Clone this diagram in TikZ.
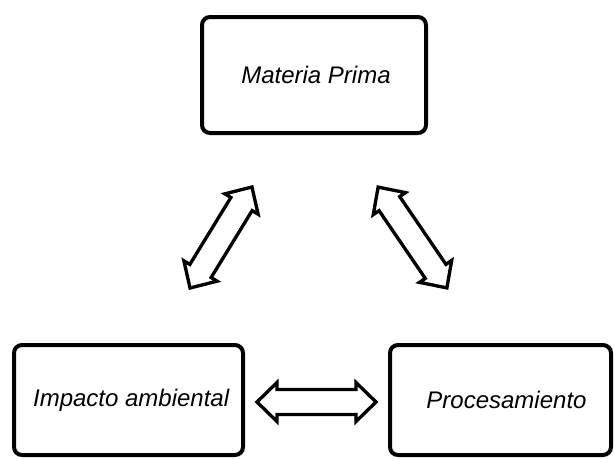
\documentclass[tikz,border=0pt]{standalone}
\usepackage{fontspec}
\setmainfont{Liberation Sans}
\begin{document}
\begin{tikzpicture}[x=0.75pt,y=-0.75pt,
  stagebox/.style={draw=black, line width=3pt, rounded corners=6pt, fill=white,
    font=\fontsize{18}{22}\selectfont\itshape, align=center, inner sep=0pt},
  pics/dblarrow/.style={code={
    % hollow double-headed block arrow, length #1, centred on the origin
    \draw[line width=2.5pt, line join=miter, fill=white]
      (-#1/2,0) -- (-#1/2+20,-19.5) -- (-#1/2+20,-12.5) -- (#1/2-20,-12.5)
      -- (#1/2-20,-19.5) -- (#1/2,0) -- (#1/2-20,19.5) -- (#1/2-20,12.5)
      -- (-#1/2+20,12.5) -- (-#1/2+20,19.5) -- cycle;
  }}]
\useasboundingbox (0,0) rectangle (614,458);

\node[stagebox, minimum width=168pt, minimum height=87pt] (mp) at (314,75) {\hspace{3pt}Materia Prima};
\node[stagebox, minimum width=171.75pt, minimum height=82.5pt] (ia) at (128.5,400) {\hspace{4pt}Impacto ambiental};
\node[stagebox, minimum width=165.75pt, minimum height=82.5pt] (pr) at (500.5,400) {\hspace{9pt}Procesamiento};

\coordinate (mpia) at (221,237.5);
\coordinate (mppr) at (412.5,237.5);
\coordinate (iapr) at (316.5,402);

\pic[rotate=58.5] at (mpia) {dblarrow=118.5};
\pic[rotate=-55.7] at (mppr) {dblarrow=122};
\pic at (iapr) {dblarrow=119};
\end{tikzpicture}
\end{document}
